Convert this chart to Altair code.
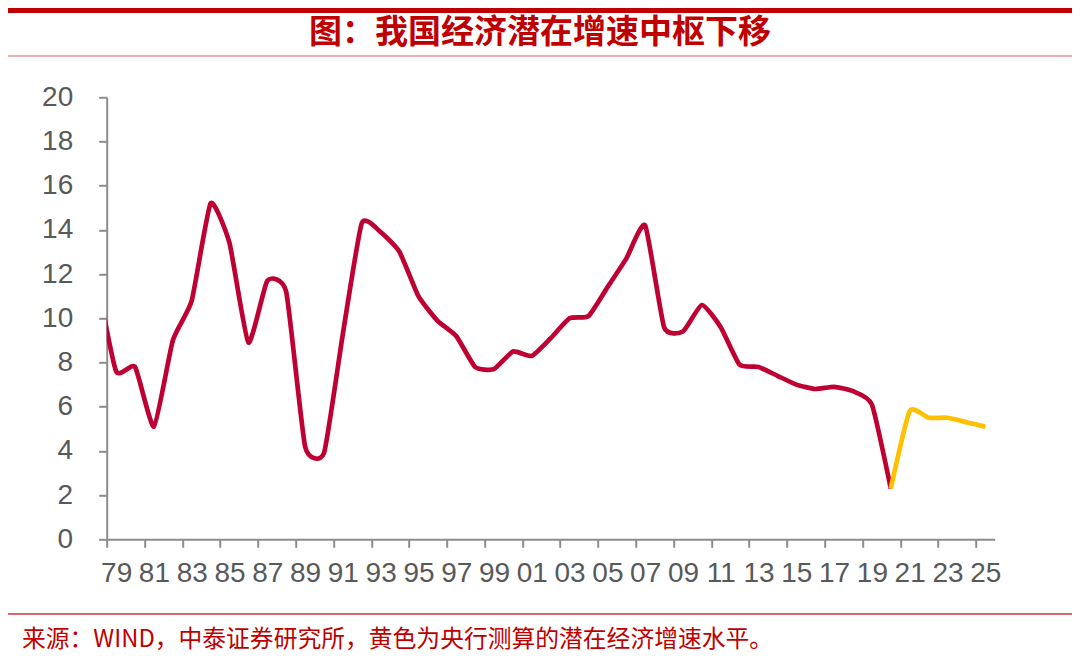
import altair as alt
import pandas as pd

# ---- data ----
actual_years = list(range(1978, 2021))
actual_growth = [11.7, 7.6, 7.8, 5.1, 9.0, 10.8, 15.2, 13.4, 8.9, 11.7,
                 11.2, 4.2, 3.9, 9.3, 14.3, 13.9, 13.0, 11.0, 9.9, 9.2,
                 7.8, 7.7, 8.5, 8.3, 9.1, 10.0, 10.1, 11.4, 12.7, 14.2,
                 9.6, 9.4, 10.6, 9.6, 7.9, 7.8, 7.4, 7.0, 6.8, 6.9,
                 6.7, 6.1, 2.3]
pboc_years = [2020, 2021, 2022, 2023, 2024, 2025]
pboc_growth = [2.3, 5.8, 5.5, 5.5, 5.3, 5.1]
series_names = ["实际增速", "央行测算"]
x_tick_years = list(range(1979, 2026, 2))
y_ticks = list(range(0, 21, 2))

title_text = "图：我国经济潜在增速中枢下移"
source_text = "来源：WIND，中泰证券研究所，黄色为央行测算的潜在经济增速水平。"

RED = "#BE0032"
GOLD = "#FFC000"
AXIS = "#8C8C8C"
LABEL = "#595959"

df = pd.concat([
    pd.DataFrame({"year": actual_years, "growth": actual_growth, "series": series_names[0]}),
    pd.DataFrame({"year": pboc_years, "growth": pboc_growth, "series": series_names[1]}),
], ignore_index=True)
one = pd.DataFrame({"k": [0]})

W, H = 888, 442
PAD_L, PAD_T = 98.7, 89.3
half_year_px = W / 47.0 / 2.0

x_axis = alt.Axis(values=x_tick_years, tickOffset=-half_year_px, labelOffset=half_year_px,
                  labelExpr="substring(toString(datum.value), 2, 4)",
                  grid=False, domainColor=AXIS, domainWidth=2, tickColor=AXIS, tickWidth=2,
                  tickSize=8, labelColor=LABEL, labelFont="Liberation Sans", labelFontSize=28,
                  labelPadding=12, labelOverlap=False, labelBound=False, labelFlush=False,
                  labelSeparation=0, title=None)
y_axis = alt.Axis(values=y_ticks, grid=False, domainColor=AXIS, domainWidth=2, tickColor=AXIS,
                  tickWidth=2, tickSize=8, labelColor=LABEL, labelFont="Liberation Sans",
                  labelFontSize=28, labelPadding=26, labelOverlap=False, title=None)

lines = alt.Chart(df).mark_line(
    strokeWidth=4.7, interpolate="cardinal", tension=0.5, clip=True
).encode(
    x=alt.X("year:Q", scale=alt.Scale(domain=[1978.5, 2025.5], nice=False, zero=False), axis=x_axis),
    y=alt.Y("growth:Q", scale=alt.Scale(domain=[0, 20], nice=False), axis=y_axis),
    color=alt.Color("series:N", scale=alt.Scale(domain=series_names, range=[RED, GOLD]), legend=None),
    order=alt.Order("year:Q"),
)

def px(page_x):
    return page_x - 8 - PAD_L

def py(page_y):
    return page_y - 8 - PAD_T

top_bar = alt.Chart(one).mark_rule(color="#C00000", strokeWidth=5).encode(
    x=alt.value(px(8)), x2=alt.value(px(1072)), y=alt.value(py(10.5)))
title_rule = alt.Chart(one).mark_rule(color="#E39A9A", strokeWidth=1.5).encode(
    x=alt.value(px(8)), x2=alt.value(px(1072)), y=alt.value(py(56)))
foot_rule = alt.Chart(one).mark_rule(color="#C23B3B", strokeWidth=1.5).encode(
    x=alt.value(px(8)), x2=alt.value(px(1072)), y=alt.value(py(614)))

title = alt.Chart(one).mark_text(
    text=title_text, color="#C00000", font="Noto Sans CJK SC", fontSize=33,
    fontWeight="bold", align="center", baseline="middle"
).encode(x=alt.value(px(540)), y=alt.value(py(33)))

source = alt.Chart(one).mark_text(
    text=source_text, color="#C00000", font="Noto Sans CJK SC", fontSize=23.8,
    align="left", baseline="middle"
).encode(x=alt.value(px(22)), y=alt.value(py(640)))

chart = alt.layer(
    lines, top_bar, title_rule, foot_rule, title, source
).properties(
    width=W, height=H,
    autosize=alt.AutoSizeParams(type="none"),
    padding={"left": PAD_L, "top": PAD_T, "right": 1064 - PAD_L - W, "bottom": 115},
    background="white",
).configure_view(stroke=None)

chart.save("out.html", embed_options={"renderer": "svg", "actions": False})
